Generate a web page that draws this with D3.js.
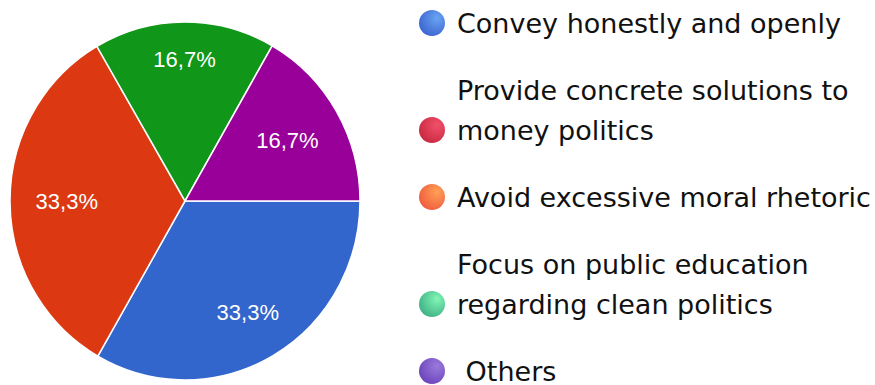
<!DOCTYPE html>
<html>
<head>
<meta charset="utf-8">
<script src="https://cdn.jsdelivr.net/npm/d3@7"></script>
<style>
  html, body { margin: 0; padding: 0; background: #fff; }
  svg { display: block; }
</style>
</head>
<body>
<svg id="chart" width="875" height="385"></svg>
<script>
// data
var categories = ["Convey honestly and openly", "Provide concrete solutions to money politics",
  "Avoid excessive moral rhetoric", "Focus on public education regarding clean politics", "Others"];
var legendLines = [["Convey honestly and openly"], ["Provide concrete solutions to", "money politics"],
  ["Avoid excessive moral rhetoric"], ["Focus on public education", "regarding clean politics"], [" Others"]];
var values = [33.3, 33.3, 0, 16.7, 16.7];
var sliceColors = ["#3366cc", "#dc3912", "#ff9900", "#109618", "#990099"];
var ballColors = [["#6aa4f2", "#3a62d0"], ["#f0506a", "#c8283e"], ["#ffa055", "#ee5a3e"],
  ["#82f6b4", "#3cae84"], ["#9a7ade", "#6a42b8"]];

var svg = d3.select("#chart");
var defs = svg.append("defs");

var cx = 185, cy = 201, rx = 175, ry = 179;

var pie = d3.pie().sort(null).value(function (d) { return d; })
  .startAngle(Math.PI / 2).endAngle(Math.PI / 2 + 2 * Math.PI);
var arcs = pie(values);
var arc = d3.arc().innerRadius(0).outerRadius(rx);

var g = svg.append("g")
  .attr("transform", "translate(" + cx + "," + cy + ") scale(1," + (ry / rx) + ")");

var shown = arcs.filter(function (d) { return d.value > 0; });

g.selectAll("path.slice")
  .data(shown)
  .enter().append("path")
  .attr("class", "slice")
  .attr("d", arc)
  .attr("fill", function (d) { return sliceColors[d.index]; })
  .attr("stroke", "#fff")
  .attr("stroke-width", 1.5);

// labels: push text box outward until its far corner reaches ~0.85 of the radius
var cornerR = 0.855 * rx;
svg.append("g").selectAll("text")
  .data(shown)
  .enter().append("text")
  .attr("text-anchor", "middle")
  .attr("dy", "0.35em")
  .attr("font-family", "Liberation Sans, Arial, sans-serif")
  .attr("font-size", 22)
  .attr("fill", "#fff")
  .text(function (d) { return d3.format(".1f")(d.value).replace(".", ",") + "%"; })
  .each(function (d) {
    var bb = this.getBBox();
    var hw = bb.width / 2, hh = 8;
    var a = (d.startAngle + d.endAngle) / 2;
    var ux = Math.sin(a), uy = -Math.cos(a);
    var lo = 0, hi = rx;
    for (var k = 0; k < 40; k++) {
      var m = (lo + hi) / 2;
      var px = ux * m, py = uy * m;
      var far = Math.sqrt(Math.pow(Math.abs(px) + hw, 2) + Math.pow(Math.abs(py) + hh, 2));
      if (far > cornerR) hi = m; else lo = m;
    }
    d3.select(this)
      .attr("x", cx + ux * lo)
      .attr("y", cy + uy * lo * ry / rx);
  });

// legend
ballColors.forEach(function (c, i) {
  var grad = defs.append("radialGradient")
    .attr("id", "ball" + i)
    .attr("cx", "0.65").attr("cy", "0.35").attr("r", "0.75")
    .attr("fx", "0.7").attr("fy", "0.3");
  grad.append("stop").attr("offset", "0%").attr("stop-color", c[0]);
  grad.append("stop").attr("offset", "100%").attr("stop-color", c[1]);
});

var lineH = 40, itemGap = 67, ballX = 432;
var y0 = 23;
var legendY = [];
legendLines.forEach(function (lines, i) {
  var prev = i === 0 ? y0 - itemGap : legendY[i - 1];
  legendY.push(prev + itemGap + (lines.length - 1) * lineH);
});

var leg = svg.append("g").selectAll("g.item")
  .data(legendLines)
  .enter().append("g").attr("class", "item");

leg.append("circle")
  .attr("cx", ballX)
  .attr("cy", function (d, i) { return legendY[i]; })
  .attr("r", 13)
  .attr("fill", function (d, i) { return "url(#ball" + i + ")"; });

leg.each(function (lines, i) {
  var t = d3.select(this).append("text")
    .attr("font-family", "DejaVu Sans, Verdana, sans-serif")
    .attr("font-size", 27)
    .attr("fill", "#111")
    .attr("xml:space", "preserve");
  lines.forEach(function (line, j) {
    t.append("tspan")
      .attr("x", 457)
      .attr("y", legendY[i] + 10 - (lines.length - 1 - j) * lineH)
      .text(line);
  });
});
</script>
</body>
</html>
